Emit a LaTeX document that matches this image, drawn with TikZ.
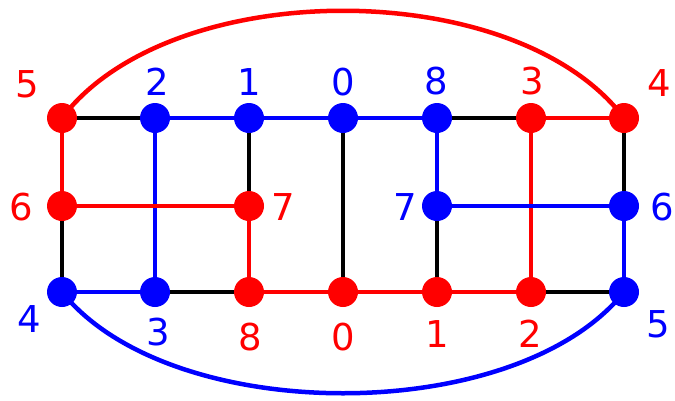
\documentclass[tikz,border=0pt]{standalone}
\usepackage{fontspec}
\setmainfont{DejaVu Sans}
\definecolor{myred}{RGB}{255,0,0}
\definecolor{myblue}{RGB}{0,0,255}
\begin{document}
\begin{tikzpicture}[x=1pt,y=-1pt,
  dot/.style={circle,inner sep=0pt,minimum size=30pt},
  rdot/.style={dot,fill=myred},
  bdot/.style={dot,fill=myblue},
  edge/.style={line width=4.5pt},
  re/.style={edge,draw=myred},
  be/.style={edge,draw=myblue},
  ke/.style={edge,draw=black},
  lab/.style={font=\fontsize{37}{40}\selectfont,inner sep=0pt},
  rl/.style={lab,text=myred},
  bl/.style={lab,text=myblue}]
\useasboundingbox (0,0) rectangle (675,400);
% node coordinates
\coordinate (t1) at (62,118);
\coordinate (t2) at (155,118);
\coordinate (t3) at (249,118);
\coordinate (t4) at (343,118);
\coordinate (t5) at (437,118);
\coordinate (t6) at (531,118);
\coordinate (t7) at (624,118);
\coordinate (m1) at (62,206);
\coordinate (m3) at (249,206);
\coordinate (m5) at (437,206);
\coordinate (m7) at (624,206);
\coordinate (b1) at (62,292);
\coordinate (b2) at (155,292);
\coordinate (b3) at (249,292);
\coordinate (b4) at (343,292);
\coordinate (b5) at (437,292);
\coordinate (b6) at (531,292);
\coordinate (b7) at (624,292);
% big arcs
\draw[re] (t1) .. controls (170,-25) and (516,-25) .. (t7);
\draw[be] (b1) .. controls (170,427) and (516,427) .. (b7);
% top row
\draw[ke] (t1) -- (t2);
\draw[be] (t2) -- (t3);
\draw[be] (t3) -- (t4);
\draw[be] (t4) -- (t5);
\draw[ke] (t5) -- (t6);
\draw[re] (t6) -- (t7);
% bottom row
\draw[be] (b1) -- (b2);
\draw[ke] (b2) -- (b3);
\draw[re] (b3) -- (b4);
\draw[re] (b4) -- (b5);
\draw[re] (b5) -- (b6);
\draw[ke] (b6) -- (b7);
% verticals
\draw[re] (t1) -- (m1);
\draw[ke] (m1) -- (b1);
\draw[be] (t2) -- (b2);
\draw[ke] (t3) -- (m3);
\draw[re] (m3) -- (b3);
\draw[ke] (t4) -- (b4);
\draw[be] (t5) -- (m5);
\draw[ke] (m5) -- (b5);
\draw[re] (t6) -- (b6);
\draw[ke] (t7) -- (m7);
\draw[be] (m7) -- (b7);
% middle horizontals
\draw[re] (m1) -- (m3);
\draw[be] (m5) -- (m7);
% dots
\node[rdot] (nt1) at (t1) {};
\node[bdot] (nt2) at (t2) {};
\node[bdot] (nt3) at (t3) {};
\node[bdot] (nt4) at (t4) {};
\node[bdot] (nt5) at (t5) {};
\node[rdot] (nt6) at (t6) {};
\node[rdot] (nt7) at (t7) {};
\node[rdot] (nm1) at (m1) {};
\node[rdot] (nm3) at (m3) {};
\node[bdot] (nm5) at (m5) {};
\node[bdot] (nm7) at (m7) {};
\node[bdot] (nb1) at (b1) {};
\node[bdot] (nb2) at (b2) {};
\node[rdot] (nb3) at (b3) {};
\node[rdot] (nb4) at (b4) {};
\node[rdot] (nb5) at (b5) {};
\node[rdot] (nb6) at (b6) {};
\node[bdot] (nb7) at (b7) {};
% labels
\node[rl] (l1) at (27,84) {5};
\node[bl] (l2) at (157,82) {2};
\node[bl] (l3) at (249,82) {1};
\node[bl] (l4) at (343,82) {0};
\node[bl] (l5) at (436,81) {8};
\node[rl] (l6) at (532,81) {3};
\node[rl] (l7) at (659,83) {4};
\node[rl] (l8) at (21,207) {6};
\node[rl] (l9) at (283,207) {7};
\node[bl] (l10) at (405,207) {7};
\node[bl] (l11) at (662,207) {6};
\node[bl] (l12) at (29,319) {4};
\node[bl] (l13) at (158,332) {3};
\node[rl] (l14) at (250,337) {8};
\node[rl] (l15) at (343,337) {0};
\node[rl] (l16) at (437,334) {1};
\node[rl] (l17) at (530,334) {2};
\node[bl] (l18) at (658,324) {5};
\end{tikzpicture}
\end{document}
